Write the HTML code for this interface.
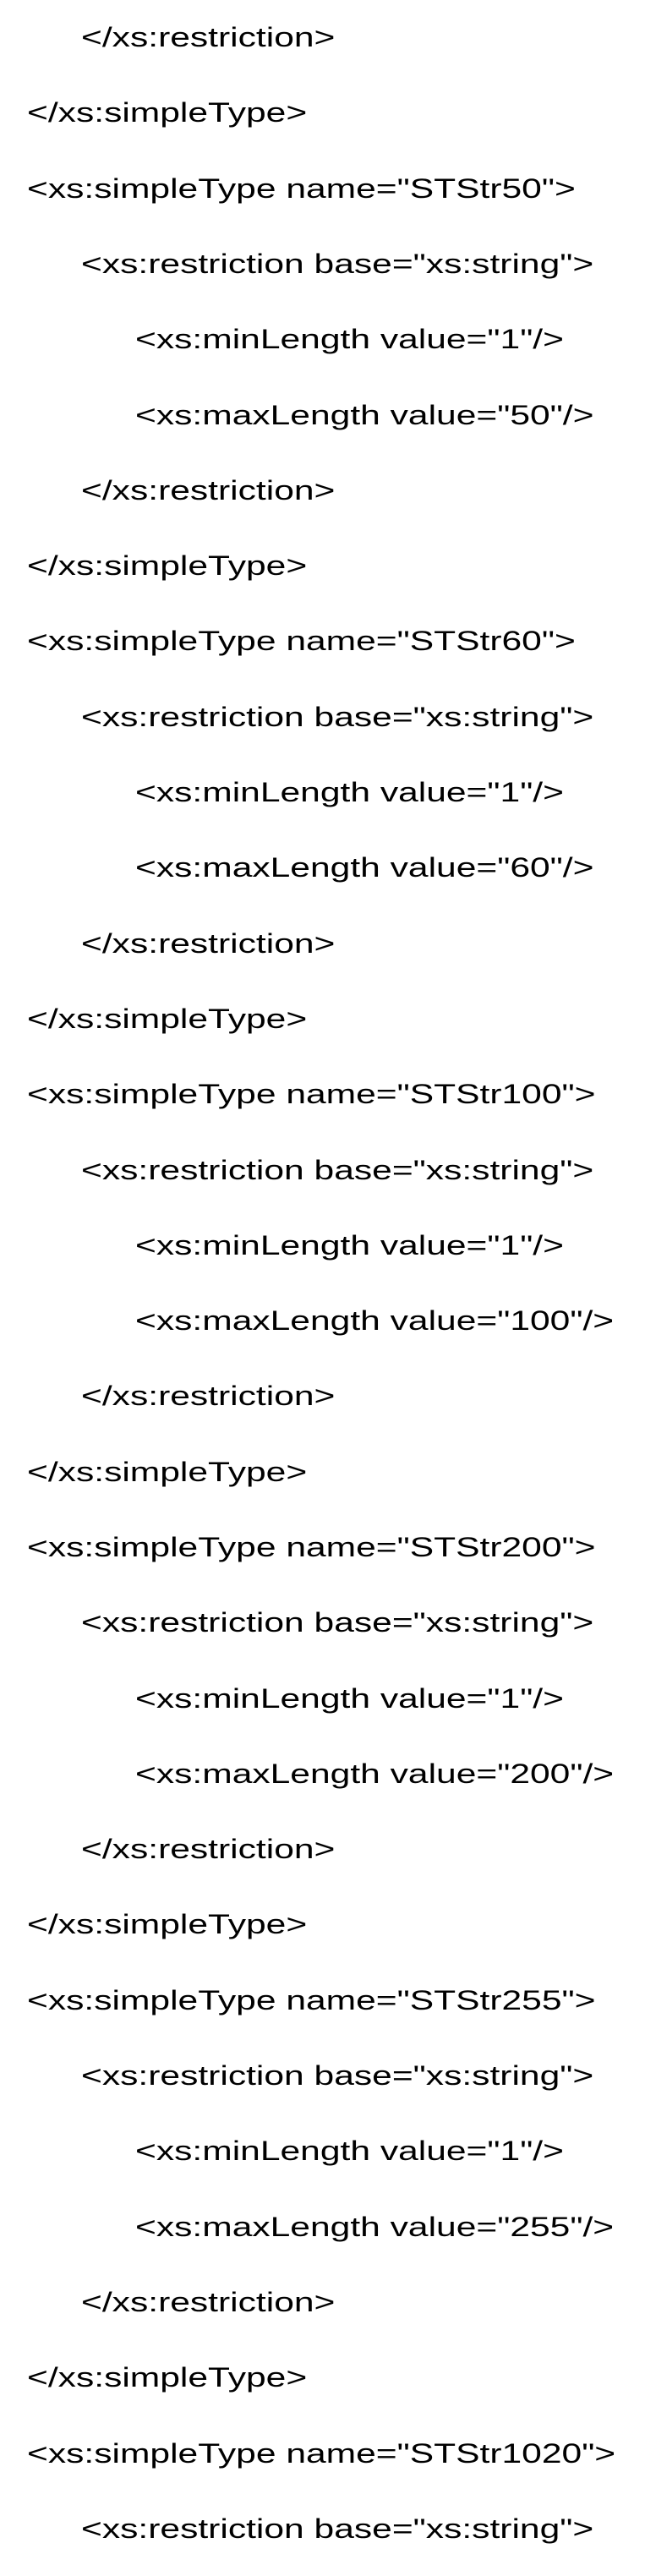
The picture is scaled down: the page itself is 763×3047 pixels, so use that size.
<!DOCTYPE html>
<html><head><meta charset="utf-8"><style>
html,body{margin:0;padding:0;background:#fff;}
body{width:763px;height:3047px;position:relative;overflow:hidden;}
.l{position:absolute;white-space:pre;font-family:"Liberation Sans",Arial,sans-serif;font-size:32px;line-height:32px;color:#000;transform:scaleX(1.33);transform-origin:0 0;}
.a{left:32px}.b{left:96px}.c{left:160px}
</style></head><body>
<div class="l b" style="top:28px">&lt;/xs:restriction&gt;</div>
<div class="l a" style="top:117px">&lt;/xs:simpleType&gt;</div>
<div class="l a" style="top:207px">&lt;xs:simpleType name="STStr50"&gt;</div>
<div class="l b" style="top:296px">&lt;xs:restriction base="xs:string"&gt;</div>
<div class="l c" style="top:385px">&lt;xs:minLength value="1"/&gt;</div>
<div class="l c" style="top:475px">&lt;xs:maxLength value="50"/&gt;</div>
<div class="l b" style="top:564px">&lt;/xs:restriction&gt;</div>
<div class="l a" style="top:653px">&lt;/xs:simpleType&gt;</div>
<div class="l a" style="top:742px">&lt;xs:simpleType name="STStr60"&gt;</div>
<div class="l b" style="top:832px">&lt;xs:restriction base="xs:string"&gt;</div>
<div class="l c" style="top:921px">&lt;xs:minLength value="1"/&gt;</div>
<div class="l c" style="top:1010px">&lt;xs:maxLength value="60"/&gt;</div>
<div class="l b" style="top:1100px">&lt;/xs:restriction&gt;</div>
<div class="l a" style="top:1189px">&lt;/xs:simpleType&gt;</div>
<div class="l a" style="top:1278px">&lt;xs:simpleType name="STStr100"&gt;</div>
<div class="l b" style="top:1368px">&lt;xs:restriction base="xs:string"&gt;</div>
<div class="l c" style="top:1457px">&lt;xs:minLength value="1"/&gt;</div>
<div class="l c" style="top:1546px">&lt;xs:maxLength value="100"/&gt;</div>
<div class="l b" style="top:1635px">&lt;/xs:restriction&gt;</div>
<div class="l a" style="top:1725px">&lt;/xs:simpleType&gt;</div>
<div class="l a" style="top:1814px">&lt;xs:simpleType name="STStr200"&gt;</div>
<div class="l b" style="top:1903px">&lt;xs:restriction base="xs:string"&gt;</div>
<div class="l c" style="top:1993px">&lt;xs:minLength value="1"/&gt;</div>
<div class="l c" style="top:2082px">&lt;xs:maxLength value="200"/&gt;</div>
<div class="l b" style="top:2171px">&lt;/xs:restriction&gt;</div>
<div class="l a" style="top:2260px">&lt;/xs:simpleType&gt;</div>
<div class="l a" style="top:2350px">&lt;xs:simpleType name="STStr255"&gt;</div>
<div class="l b" style="top:2439px">&lt;xs:restriction base="xs:string"&gt;</div>
<div class="l c" style="top:2528px">&lt;xs:minLength value="1"/&gt;</div>
<div class="l c" style="top:2618px">&lt;xs:maxLength value="255"/&gt;</div>
<div class="l b" style="top:2707px">&lt;/xs:restriction&gt;</div>
<div class="l a" style="top:2796px">&lt;/xs:simpleType&gt;</div>
<div class="l a" style="top:2886px">&lt;xs:simpleType name="STStr1020"&gt;</div>
<div class="l b" style="top:2975px">&lt;xs:restriction base="xs:string"&gt;</div>
</body></html>
